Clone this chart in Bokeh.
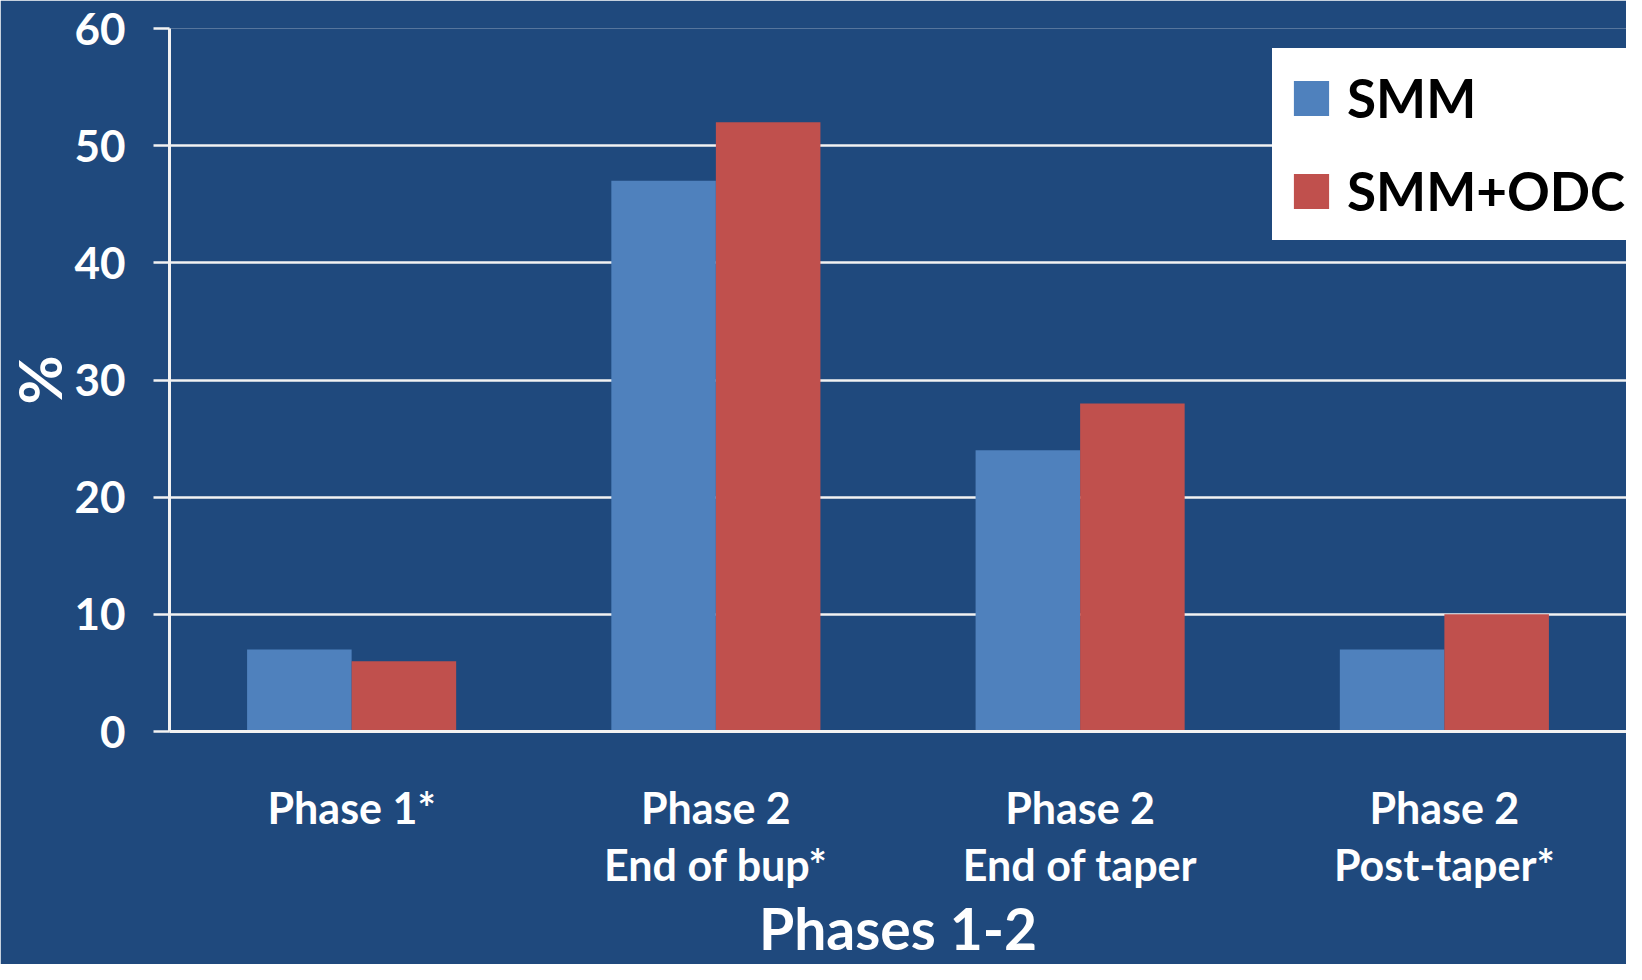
from bokeh.plotting import figure
from bokeh.models import FactorRange, Range1d, FixedTicker, Legend, LegendItem, ColumnDataSource
from bokeh.transform import dodge
from bokeh.embed import file_html
from bokeh.resources import INLINE

# ---- data ----
categories = ["Phase 1*", "Phase 2\nEnd of bup*", "Phase 2\nEnd of taper", "Phase 2\nPost-taper*"]
smm = [7, 47, 24, 7]
smm_odc = [6, 52, 28, 10]
series_names = ["SMM", "SMM+ODC"]
y_ticks = [0, 10, 20, 30, 40, 50, 60]
x_title = "Phases 1-2"
y_title = "%"

# ---- style ----
BG = "#1F497D"
BLUE = "#4F81BD"
RED = "#C0504D"
LINE = "#F2F2F2"
FONT = "Lato"

src = ColumnDataSource(dict(cat=categories, smm=smm, smm_odc=smm_odc))

p = figure(
    x_range=FactorRange(*categories, range_padding=0),
    y_range=Range1d(0, 60),
    width=1626, height=964,
    output_backend="svg", toolbar_location=None,
    min_border_left=169, min_border_right=0,
    min_border_top=28, min_border_bottom=233,
)
p.background_fill_color = BG
p.border_fill_color = BG
p.outline_line_color = None

bw = 0.287
r1 = p.vbar(x=dodge("cat", -bw / 2, range=p.x_range), top="smm", width=bw,
            source=src, fill_color=BLUE, line_color=None)
r2 = p.vbar(x=dodge("cat", bw / 2, range=p.x_range), top="smm_odc", width=bw,
            source=src, fill_color=RED, line_color=None)

# grid
p.xgrid.grid_line_color = None
p.ygrid.grid_line_color = LINE
p.ygrid.grid_line_width = 2.5
p.ygrid.ticker = FixedTicker(ticks=y_ticks)

# y axis
ya = p.yaxis[0]
ya.ticker = FixedTicker(ticks=y_ticks)
ya.axis_line_color = LINE
ya.axis_line_width = 3
ya.major_tick_line_color = LINE
ya.major_tick_line_width = 2.5
ya.major_tick_out = 16
ya.major_tick_in = 0
ya.minor_tick_line_color = None
ya.major_label_standoff = 28
ya.major_label_text_font = FONT
ya.major_label_text_font_style = "bold"
ya.major_label_text_font_size = "44px"
ya.major_label_text_color = "white"
ya.axis_label = y_title
ya.axis_label_text_font = FONT
ya.axis_label_text_font_style = "bold"
ya.axis_label_text_font_size = "60px"
ya.axis_label_text_color = "white"
ya.axis_label_standoff = -4

# x axis
xa = p.xaxis[0]
xa.axis_line_color = LINE
xa.axis_line_width = 3
xa.major_tick_line_color = None
xa.major_tick_out = 0
xa.major_tick_in = 0
xa.minor_tick_line_color = None
xa.major_label_standoff = 50
xa.major_label_text_font = FONT
xa.major_label_text_font_style = "bold"
xa.major_label_text_font_size = "43px"
xa.major_label_text_color = "white"
xa.major_label_text_line_height = 1.12
xa.axis_label = x_title
xa.axis_label_text_font = FONT
xa.axis_label_text_font_style = "bold"
xa.axis_label_text_font_size = "57px"
xa.axis_label_text_color = "white"
xa.axis_label_standoff = 1

legend = Legend(
    items=[LegendItem(label=series_names[0], renderers=[r1]),
           LegendItem(label=series_names[1], renderers=[r2])],
    location=(1103, 491),
    background_fill_color="white", background_fill_alpha=1.0,
    border_line_color="white", border_line_width=17,
    label_text_font=FONT, label_text_font_style="bold",
    label_text_font_size="53px", label_text_color="black",
    glyph_width=44, glyph_height=44, label_height=65, label_standoff=14,
    spacing=28, padding=0, margin=0,
)
p.add_layout(legend)

open("out.html", "w").write(file_html(p, INLINE))
